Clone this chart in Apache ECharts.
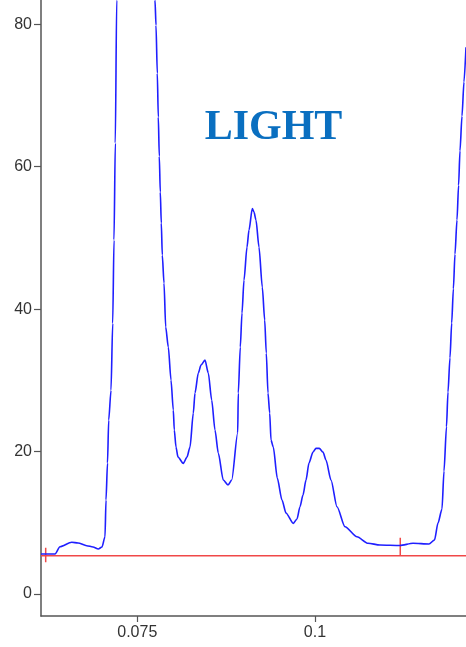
<!DOCTYPE html>
<html>
<head>
<meta charset="utf-8">
<script src="https://cdn.jsdelivr.net/npm/echarts@6/dist/echarts.min.js"></script>
<style>html,body{margin:0;padding:0;background:#fff;}#c{width:466px;height:647px;}</style>
</head>
<body>
<div id="c"></div>
<script>
// Data
var curveX = [0.06145,0.06342,0.06412,0.06577,0.06666,0.06788,0.06877,0.06951,0.07003,0.070455,0.070596,0.070807,0.070976,0.0713,0.071539,0.071722,0.071905,0.072102,0.072425,0.073269,0.074817,0.076365,0.077209,0.07749,0.077631,0.077814,0.077955,0.078095,0.078236,0.078377,0.078518,0.078757,0.078996,0.079362,0.079742,0.080065,0.080206,0.080445,0.080726,0.081472,0.081993,0.082415,0.082879,0.083118,0.083583,0.083963,0.084525,0.08499,0.085468,0.085932,0.086397,0.0871,0.087761,0.088282,0.089126,0.089211,0.089492,0.089731,0.090013,0.090435,0.090716,0.091181,0.09142,0.091701,0.092123,0.092588,0.092925,0.09315,0.09339,0.093629,0.093812,0.094135,0.094698,0.095359,0.095922,0.096949,0.09747,0.097892,0.098314,0.098736,0.099158,0.099721,0.100143,0.100607,0.101128,0.10155,0.102254,0.103098,0.104223,0.105912,0.10746,0.109148,0.111962,0.113791,0.116042,0.116817,0.117309,0.117872,0.118154,0.118504,0.118715,0.118997,0.119236,0.119475,0.1197,0.119982,0.120207,0.120404,0.120685,0.120966,0.121248];
var curveY = [5.61,5.61,6.64,7.26,7.16,6.78,6.6,6.32,6.6,8.04,13.19,18.39,24.42,28.6,38.0,49.7,63.3,83.4,100,125,135,120,95,83.4,79.86,73.12,66.95,61.47,56.42,52.07,47.58,43.65,37.47,34.67,30.04,25.82,23.02,20.63,19.23,18.34,19.23,20.63,25.4,28.21,31.02,32.14,32.84,31.02,27.23,23.02,19.79,16.0,15.3,16.0,22.6,28.21,34.67,39.44,44.07,48.7,51.09,54.13,53.61,52.49,48.7,43.09,38.46,33.82,28.21,25.4,21.61,20.63,16.28,13.19,11.37,9.92,10.53,12.25,13.89,16.0,18.39,19.93,20.45,20.45,19.93,18.81,16.0,12.25,9.45,8.04,7.12,6.88,6.81,7.12,7.02,7.58,9.96,11.93,17.26,23.49,28.35,33.18,38.04,42.86,47.72,52.53,57.4,62.22,67.09,71.9,76.77];
var baselineY = 5.38;
var markerX = [0.06211, 0.112];
var markerTop = [6.5, 7.9];
var markerBottom = [4.45, 5.33];
var yTicks = [0, 20, 40, 60, 80];
var xTicks = [0.075, 0.1];
var xRange = [0.06145, 0.12125];
var yRange = [-3.09, 83.4];
var titleText = 'LIGHT';

var curve = curveX.map(function (x, i) { return [x, curveY[i]]; });
var series = [
  {
    type: 'line', data: curve, symbol: 'none', clip: true, smooth: 0.25, smoothMonotone: 'x',
    lineStyle: { color: '#1f1fff', width: 1.6 }, z: 3, silent: true
  },
  {
    type: 'line', data: [[xRange[0], baselineY], [xRange[1], baselineY]], symbol: 'none',
    lineStyle: { color: '#f04848', width: 1.5 }, z: 2, silent: true
  }
];
markerX.forEach(function (mx, i) {
  series.push({
    type: 'line', data: [[mx, markerBottom[i]], [mx, markerTop[i]]], symbol: 'none',
    lineStyle: { color: '#f04848', width: 1.5 }, z: 2, silent: true
  });
});

var axisColor = '#555';
var chart = echarts.init(document.getElementById('c'), null, { renderer: 'canvas' });
chart.setOption({
  animation: false,
  backgroundColor: '#fff',
  grid: { left: 41, right: 0, top: 0, bottom: 31, containLabel: false },
  xAxis: {
    type: 'value', min: xRange[0], max: xRange[1],
    axisLine: { show: true, onZero: false, lineStyle: { color: axisColor, width: 1.5 } },
    axisTick: { show: true, length: 6, customValues: xTicks, lineStyle: { color: axisColor, width: 1.2 } },
    axisLabel: { customValues: xTicks, margin: 9, color: '#333', fontFamily: 'Liberation Sans', fontSize: 16,
      formatter: function (v) { return String(+v.toFixed(3)); } },
    splitLine: { show: false }
  },
  yAxis: {
    type: 'value', min: yRange[0], max: yRange[1],
    axisLine: { show: true, onZero: false, lineStyle: { color: axisColor, width: 1.5 } },
    axisTick: { show: true, length: 7, customValues: yTicks, lineStyle: { color: axisColor, width: 1.2 } },
    axisLabel: { customValues: yTicks, margin: 9, color: '#333', fontFamily: 'Liberation Sans', fontSize: 16 },
    splitLine: { show: false }
  },
  graphic: [{
    type: 'text', x: 273.5, y: 128.5, z: 10,
    style: { text: titleText, fill: '#0a6fc0', font: 'bold 42px "Liberation Serif"', align: 'center', verticalAlign: 'middle' }
  }],
  series: series
});
</script>
</body>
</html>
